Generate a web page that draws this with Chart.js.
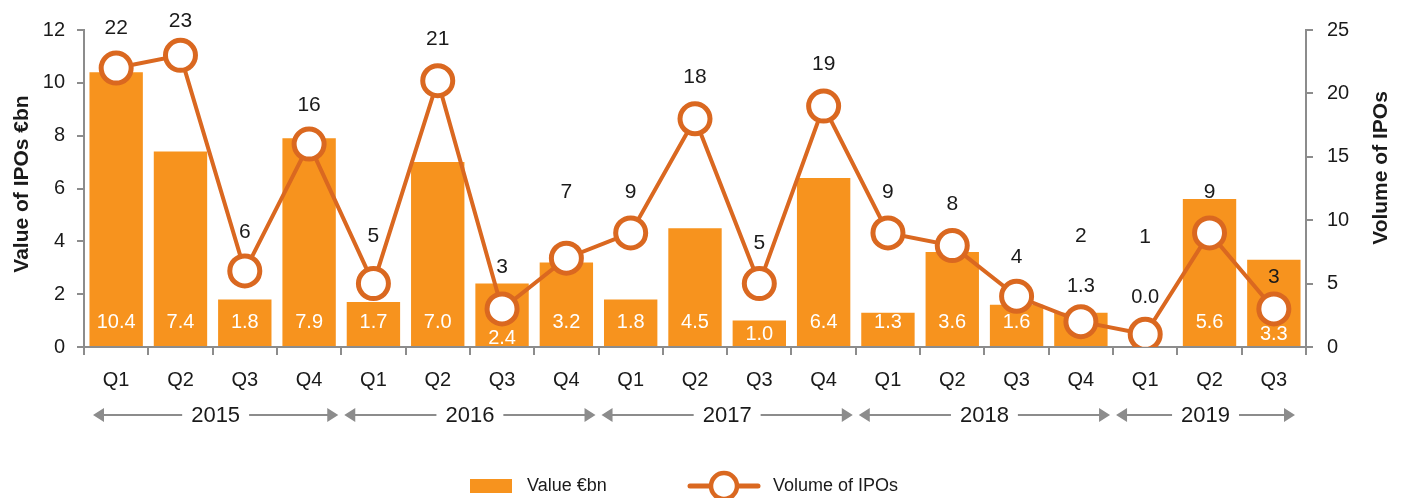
<!DOCTYPE html>
<html>
<head>
<meta charset="utf-8">
<script src="https://cdn.jsdelivr.net/npm/chart.js@4"></script>
<style>
  body { margin: 0; background: #fff; }
  #wrap { width: 1405px; height: 498px; position: relative; }
</style>
</head>
<body>
<div id="wrap"><canvas id="ipo-chart"></canvas></div>
<script>
const quarters = ['Q1', 'Q2', 'Q3', 'Q4', 'Q1', 'Q2', 'Q3', 'Q4', 'Q1', 'Q2', 'Q3', 'Q4', 'Q1', 'Q2', 'Q3', 'Q4', 'Q1', 'Q2', 'Q3']
const years = ['2015', '2016', '2017', '2018', '2019']
const quartersPerYear = [4, 4, 4, 4, 3]
const valueBn = [10.4, 7.4, 1.8, 7.9, 1.7, 7.0, 2.4, 3.2, 1.8, 4.5, 1.0, 6.4, 1.3, 3.6, 1.6, 1.3, 0.0, 5.6, 3.3]
const ipoVolume = [22, 23, 6, 16, 5, 21, 3, 7, 9, 18, 5, 19, 9, 8, 4, 2, 1, 9, 3]

// label nudges (px), the source places some labels by hand
const volumeLabelDy = [-40, -34, -39, -39, -47, -42, -42, -66, -41, -42, -40, -42, -41, -41, -39, -85, -97, -41, -32]
const valueLabelDy = [-25, -25, -25, -25, -25, -25, -9, -25, -25, -25, -13, -25, -25, -25, -25, -61, -50, -25, -13]
const valueLabelOutside = [15, 16]

const FONT = '"Liberation Sans", Arial, Helvetica, sans-serif'
const BAR = '#F7931E'
const LINE = '#DA6820'
const AXIS = '#8C8C8C'
const TEXT = '#1a1a1a'

const labelsPlugin = {
    id: 'labels',
    afterDatasetDraw(chart, args) {
        const ctx = chart.ctx
        const y0 = chart.scales.y.getPixelForValue(0)
        if (args.index === 0) {
            const meta = chart.getDatasetMeta(0)
            ctx.save()
            ctx.font = '20px ' + FONT
            ctx.textAlign = 'center'
            ctx.textBaseline = 'middle'
            meta.data.forEach((bar, i) => {
                ctx.fillStyle = valueLabelOutside.includes(i) ? TEXT : '#fff'
                ctx.fillText(valueBn[i].toFixed(1), bar.x, y0 + valueLabelDy[i])
            })
            ctx.restore()
        }
        if (args.index === 1) {
            const meta = chart.getDatasetMeta(1)
            ctx.save()
            ctx.font = '21px ' + FONT
            ctx.fillStyle = TEXT
            ctx.textAlign = 'center'
            ctx.textBaseline = 'middle'
            meta.data.forEach((pt, i) => {
                ctx.fillText(String(ipoVolume[i]), pt.x, pt.y + volumeLabelDy[i])
            })
            ctx.restore()
        }
    },
    afterDraw(chart) {
        const ctx = chart.ctx
        const x = chart.scales.x
        const half = (x.getPixelForValue(1) - x.getPixelForValue(0)) / 2

        // year groups with arrows
        ctx.save()
        ctx.font = '22px ' + FONT
        ctx.textAlign = 'center'
        ctx.textBaseline = 'middle'
        ctx.strokeStyle = AXIS
        ctx.fillStyle = AXIS
        ctx.lineWidth = 2
        const yy = 415
        let start = 0
        years.forEach((yr, g) => {
            const end = start + quartersPerYear[g] - 1
            let left = x.getPixelForValue(start) - half + 3
            let right = x.getPixelForValue(end) + half - 3
            if (g === 0) left += 6
            if (g === years.length - 1) right -= 8
            const mid = (left + right) / 2
            const tw = ctx.measureText(yr).width / 2 + 9
            ctx.beginPath()
            ctx.moveTo(left + 8, yy); ctx.lineTo(mid - tw, yy)
            ctx.moveTo(mid + tw, yy); ctx.lineTo(right - 8, yy)
            ctx.stroke()
            ctx.beginPath()
            ctx.moveTo(left, yy); ctx.lineTo(left + 11, yy - 7); ctx.lineTo(left + 11, yy + 7); ctx.closePath()
            ctx.moveTo(right, yy); ctx.lineTo(right - 11, yy - 7); ctx.lineTo(right - 11, yy + 7); ctx.closePath()
            ctx.fill()
            ctx.fillStyle = TEXT
            ctx.fillText(yr, mid, yy + 1)
            ctx.fillStyle = AXIS
            start = end + 1
        })
        ctx.restore()

        // axis titles
        ctx.save()
        ctx.font = 'bold 21px ' + FONT
        ctx.fillStyle = TEXT
        ctx.textAlign = 'center'
        ctx.textBaseline = 'middle'
        ctx.translate(22, 184)
        ctx.rotate(-Math.PI / 2)
        ctx.fillText('Value of IPOs €bn', 0, 0)
        ctx.restore()
        ctx.save()
        ctx.font = 'bold 21px ' + FONT
        ctx.fillStyle = TEXT
        ctx.textAlign = 'center'
        ctx.textBaseline = 'middle'
        ctx.translate(1381, 168)
        ctx.rotate(-Math.PI / 2)
        ctx.fillText('Volume of IPOs', 0, 0)
        ctx.restore()

        // legend
        const ly = 486
        ctx.save()
        ctx.font = '18px ' + FONT
        ctx.fillStyle = BAR
        ctx.fillRect(470, ly - 7, 42, 14)
        ctx.fillStyle = TEXT
        ctx.textBaseline = 'middle'
        ctx.fillText(chart.data.datasets[0].label, 527, ly)
        ctx.strokeStyle = LINE
        ctx.lineWidth = 5
        ctx.lineCap = 'round'
        ctx.beginPath(); ctx.moveTo(690, ly); ctx.lineTo(758, ly); ctx.stroke()
        ctx.beginPath(); ctx.arc(724, ly, 13, 0, Math.PI * 2)
        ctx.fillStyle = '#fff'; ctx.fill()
        ctx.lineWidth = 4.5; ctx.stroke()
        ctx.fillStyle = TEXT
        ctx.fillText(chart.data.datasets[1].label, 773, ly)
        ctx.restore()
    }
}

const ctx = document.getElementById('ipo-chart')
new Chart(ctx, {
    data: {
        labels: quarters,
        datasets: [{
            type: 'bar',
            label: 'Value €bn',
            data: valueBn,
            backgroundColor: BAR,
            categoryPercentage: 0.83,
            barPercentage: 1,
            yAxisID: 'y',
            order: 2
        }, {
            type: 'line',
            label: 'Volume of IPOs',
            data: ipoVolume,
            borderColor: LINE,
            borderWidth: 4,
            pointRadius: 15,
            pointHoverRadius: 15,
            pointBackgroundColor: '#fff',
            pointBorderColor: LINE,
            pointBorderWidth: 5,
            tension: 0,
            yAxisID: 'y1',
            order: 1
        }]
    },
    options: {
        responsive: true,
        maintainAspectRatio: false,
        animation: false,
        layout: { padding: { top: 30, left: 0, right: 0, bottom: 0 } },
        plugins: {
            legend: { display: false },
            tooltip: { enabled: false }
        },
        scales: {
            x: {
                offset: true,
                grid: { offset: true, drawOnChartArea: false, color: AXIS, lineWidth: 2, tickLength: 8 },
                border: { color: AXIS, width: 2 },
                ticks: { color: TEXT, font: { family: FONT, size: 20 }, padding: 13, maxRotation: 0 },
                afterFit(scale) { scale.height = 151 }
            },
            y: {
                position: 'left',
                min: 0,
                max: 12,
                grid: { drawOnChartArea: false, color: AXIS, lineWidth: 2, tickLength: 7 },
                border: { color: AXIS, width: 2 },
                ticks: { stepSize: 2, color: TEXT, font: { family: FONT, size: 20 }, padding: 12 },
                afterFit(scale) { scale.width = 84 }
            },
            y1: {
                position: 'right',
                min: 0,
                max: 25,
                grid: { drawOnChartArea: false, color: AXIS, lineWidth: 2, tickLength: 7 },
                border: { color: AXIS, width: 2 },
                ticks: { stepSize: 5, color: TEXT, font: { family: FONT, size: 20 }, padding: 14 },
                afterFit(scale) { scale.width = 99 }
            }
        }
    },
    plugins: [labelsPlugin]
})
</script>
</body>
</html>
